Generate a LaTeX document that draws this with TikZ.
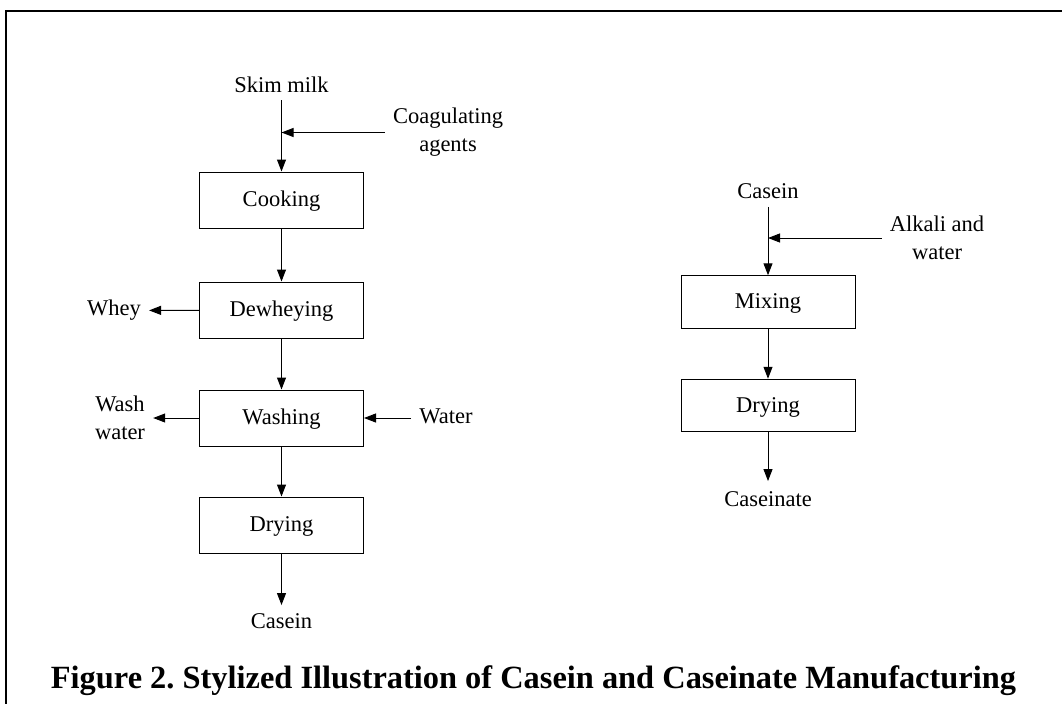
\documentclass[tikz,border=0pt]{standalone}
\usepackage{fontspec}
\setmainfont{Liberation Serif}
\usetikzlibrary{arrows.meta}
\begin{document}
\frenchspacing
\begin{tikzpicture}[x=1pt,y=-1pt,
  box/.style={draw, line width=1pt, minimum width=164pt, minimum height=56pt, inner sep=0pt, text height=15pt, text depth=1.5pt, font=\fontsize{22.5}{28}\selectfont},
  rbox/.style={box, minimum width=174pt, minimum height=52.5pt},
  lbl/.style={inner xsep=8pt, inner ysep=3pt, text height=15.5pt, text depth=5pt, font=\fontsize{22.5}{28}\selectfont},
  lbltwo/.style={inner xsep=8pt, inner ysep=0pt, align=center, font=\fontsize{22.5}{28}\selectfont},
  arr/.style={line width=1pt, -{Triangle[length=12pt,width=9pt]}},
  frameline/.style={line width=2.5pt},
  captionstyle/.style={inner sep=0pt, anchor=base, font=\fontsize{32.4}{36}\selectfont\bfseries}]
\useasboundingbox (0,0) rectangle (1062,704);
\draw[frameline] (1062,11) -- (6,11) -- (6,704);

% left process
\node[lbl] (skim) at (281.5,87) {Skim milk};
\node[lbltwo] (coag) at (448,132.5) {Coagulating\\agents};
\node[box] (cook) at (281.5,200) {Cooking};
\node[box] (dew) at (281.5,310) {Dewheying};
\node[lbl] (whey) at (114,310.5) {Whey};
\node[box] (wash) at (281.5,418) {Washing};
\node[lbltwo] (washw) at (120,418) {Wash\\water};
\node[lbl] (water) at (446,418) {Water};
\node[box] (dry) at (281.5,525) {Drying};
\node[lbl] (casein) at (281.5,623) {Casein};

\draw[arr] (skim) -- (cook);
\draw[arr] (coag.west) -- (coag.west -| cook.north);
\draw[arr] (cook) -- (dew);
\draw[arr] (dew) -- (whey);
\draw[arr] (dew) -- (wash);
\draw[arr] (wash) -- (washw);
\draw[arr] (water) -- (wash);
\draw[arr] (wash) -- (dry);
\draw[arr, shorten >=4.5pt] (dry) -- (casein);

% right process
\node[lbl] (caseinr) at (768,193.5) {Casein};
\node[lbltwo] (alkali) at (937,238) {Alkali and\\water};
\node[rbox] (mix) at (768,302) {Mixing};
\node[rbox] (dryr) at (768,405.5) {Drying};
\node[lbl] (caseinate) at (768,501) {Caseinate};

\draw[arr] (caseinr) -- (mix);
\draw[arr] (alkali.west) -- (alkali.west -| mix.north);
\draw[arr] (mix) -- (dryr);
\draw[arr, shorten >=6.5pt] (dryr) -- (caseinate);

\node[captionstyle] (caption) at (533.5,688) {Figure 2. Stylized Illustration of Casein and Caseinate Manufacturing};
\end{tikzpicture}
\end{document}
